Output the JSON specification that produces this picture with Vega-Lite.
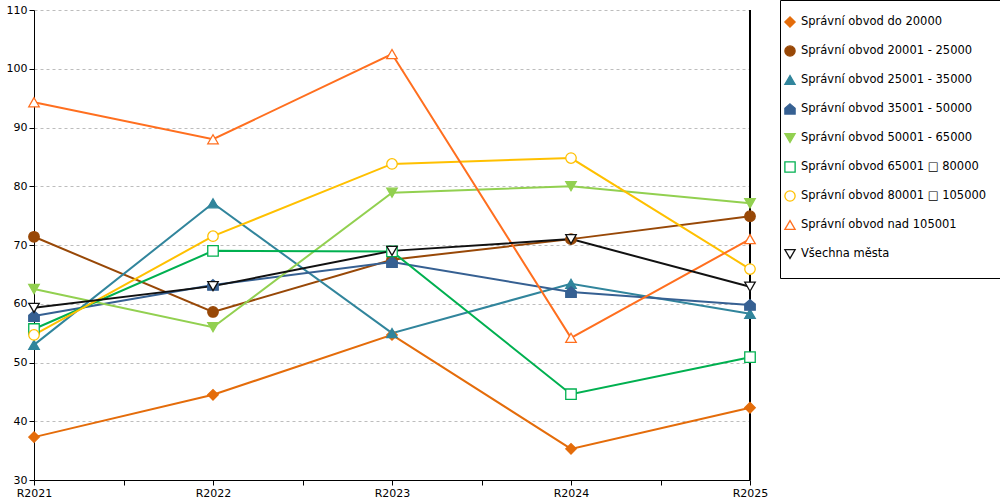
{
  "$schema": "https://vega.github.io/schema/vega-lite/v6.json",
  "width": 716,
  "height": 470,
  "padding": {"left": 34, "top": 10, "right": 250, "bottom": 20},
  "autosize": {"type": "none"},
  "background": "white",
  "config": {
    "view": {"stroke": null},
    "font": "DejaVu Sans",
    "axis": {"labelFont": "DejaVu Sans", "labelFontSize": 11, "labelColor": "black", "domainColor": "black", "tickColor": "black", "tickSize": 5, "titleFontSize": 11},
    "legend": {"labelFont": "DejaVu Sans", "labelFontSize": 11.5, "labelColor": "black"}
  },
  "data": {
    "values": [
      {"obvod": "Správní obvod do 20000", "rok": 2021, "hodnota": 37.3},
      {"obvod": "Správní obvod do 20000", "rok": 2022, "hodnota": 44.5},
      {"obvod": "Správní obvod do 20000", "rok": 2023, "hodnota": 54.7},
      {"obvod": "Správní obvod do 20000", "rok": 2024, "hodnota": 35.3},
      {"obvod": "Správní obvod do 20000", "rok": 2025, "hodnota": 42.3},
      {"obvod": "Správní obvod 20001 - 25000", "rok": 2021, "hodnota": 71.4},
      {"obvod": "Správní obvod 20001 - 25000", "rok": 2022, "hodnota": 58.6},
      {"obvod": "Správní obvod 20001 - 25000", "rok": 2023, "hodnota": 67.5},
      {"obvod": "Správní obvod 20001 - 25000", "rok": 2024, "hodnota": 71.0},
      {"obvod": "Správní obvod 20001 - 25000", "rok": 2025, "hodnota": 74.9},
      {"obvod": "Správní obvod 25001 - 35000", "rok": 2021, "hodnota": 53.0},
      {"obvod": "Správní obvod 25001 - 35000", "rok": 2022, "hodnota": 77.1},
      {"obvod": "Správní obvod 25001 - 35000", "rok": 2023, "hodnota": 55.0},
      {"obvod": "Správní obvod 25001 - 35000", "rok": 2024, "hodnota": 63.4},
      {"obvod": "Správní obvod 25001 - 35000", "rok": 2025, "hodnota": 58.3},
      {"obvod": "Správní obvod 35001 - 50000", "rok": 2021, "hodnota": 57.9},
      {"obvod": "Správní obvod 35001 - 50000", "rok": 2022, "hodnota": 63.2},
      {"obvod": "Správní obvod 35001 - 50000", "rok": 2023, "hodnota": 67.1},
      {"obvod": "Správní obvod 35001 - 50000", "rok": 2024, "hodnota": 62.0},
      {"obvod": "Správní obvod 35001 - 50000", "rok": 2025, "hodnota": 59.8},
      {"obvod": "Správní obvod 50001 - 65000", "rok": 2021, "hodnota": 62.5},
      {"obvod": "Správní obvod 50001 - 65000", "rok": 2022, "hodnota": 56.0},
      {"obvod": "Správní obvod 50001 - 65000", "rok": 2023, "hodnota": 78.9},
      {"obvod": "Správní obvod 50001 - 65000", "rok": 2024, "hodnota": 80.0},
      {"obvod": "Správní obvod 50001 - 65000", "rok": 2025, "hodnota": 77.1},
      {"obvod": "Správní obvod 65001 □ 80000", "rok": 2021, "hodnota": 55.7},
      {"obvod": "Správní obvod 65001 □ 80000", "rok": 2022, "hodnota": 69.0},
      {"obvod": "Správní obvod 65001 □ 80000", "rok": 2023, "hodnota": 68.9},
      {"obvod": "Správní obvod 65001 □ 80000", "rok": 2024, "hodnota": 44.6},
      {"obvod": "Správní obvod 65001 □ 80000", "rok": 2025, "hodnota": 50.9},
      {"obvod": "Správní obvod 80001 □ 105000", "rok": 2021, "hodnota": 54.7},
      {"obvod": "Správní obvod 80001 □ 105000", "rok": 2022, "hodnota": 71.5},
      {"obvod": "Správní obvod 80001 □ 105000", "rok": 2023, "hodnota": 83.8},
      {"obvod": "Správní obvod 80001 □ 105000", "rok": 2024, "hodnota": 84.8},
      {"obvod": "Správní obvod 80001 □ 105000", "rok": 2025, "hodnota": 65.9},
      {"obvod": "Správní obvod nad 105001", "rok": 2021, "hodnota": 94.3},
      {"obvod": "Správní obvod nad 105001", "rok": 2022, "hodnota": 88.0},
      {"obvod": "Správní obvod nad 105001", "rok": 2023, "hodnota": 102.5},
      {"obvod": "Správní obvod nad 105001", "rok": 2024, "hodnota": 54.2},
      {"obvod": "Správní obvod nad 105001", "rok": 2025, "hodnota": 71.0},
      {"obvod": "Všechna města", "rok": 2021, "hodnota": 59.3},
      {"obvod": "Všechna města", "rok": 2022, "hodnota": 63.0},
      {"obvod": "Všechna města", "rok": 2023, "hodnota": 69.0},
      {"obvod": "Všechna města", "rok": 2024, "hodnota": 71.0},
      {"obvod": "Všechna města", "rok": 2025, "hodnota": 62.9}
    ]
  },
  "encoding": {
    "x": {
      "field": "rok",
      "type": "quantitative",
      "scale": {"domain": [2021, 2025], "nice": false, "zero": false},
      "axis": {
        "title": null,
        "grid": false,
        "values": [2021, 2021.5, 2022, 2022.5, 2023, 2023.5, 2024, 2024.5, 2025],
        "labelExpr": "datum.value % 1 == 0 ? 'R' + datum.value : ''",
        "labelFlush": false,
        "labelPadding": 2
      }
    },
    "y": {
      "field": "hodnota",
      "type": "quantitative",
      "scale": {"domain": [30, 110], "nice": false, "zero": false},
      "axis": {
        "title": null,
        "values": [30, 40, 50, 60, 70, 80, 90, 100, 110],
        "grid": true,
        "gridColor": "#bdbdbd",
        "gridDash": [3, 3],
        "labelFlush": false,
        "labelPadding": 2
      }
    }
  },
  "layer": [
    {
      "mark": {"type": "line", "strokeWidth": 2},
      "encoding": {
        "stroke": {
          "field": "obvod",
          "type": "nominal",
          "scale": {
            "domain": ["Správní obvod do 20000", "Správní obvod 20001 - 25000", "Správní obvod 25001 - 35000", "Správní obvod 35001 - 50000", "Správní obvod 50001 - 65000", "Správní obvod 65001 □ 80000", "Správní obvod 80001 □ 105000", "Správní obvod nad 105001", "Všechna města"],
            "range": ["#e46c0a", "#984807", "#31859c", "#366092", "#92d050", "#00b050", "#ffc000", "#ff6f1f", "#111111"]
          },
          "legend": {
            "title": null,
            "orient": "none",
            "legendX": 746,
            "legendY": -10,
            "strokeColor": "black",
            "padding": 16,
            "symbolOffset": -12,
            "rowPadding": 13,
            "symbolSize": 105,
            "symbolStrokeWidth": 1.3,
            "labelOffset": 5,
            "labelLimit": 300
          }
        }
      }
    },
    {
      "mark": {"type": "rule", "color": "black", "strokeWidth": 1},
      "encoding": {"x": {"datum": 2025}, "y": null}
    },
    {
      "mark": {"type": "point", "filled": true, "size": 110, "strokeWidth": 1.3, "opacity": 1},
      "encoding": {
        "stroke": {"field": "obvod", "type": "nominal"},
        "fill": {
          "field": "obvod",
          "type": "nominal",
          "scale": {
            "domain": ["Správní obvod do 20000", "Správní obvod 20001 - 25000", "Správní obvod 25001 - 35000", "Správní obvod 35001 - 50000", "Správní obvod 50001 - 65000", "Správní obvod 65001 □ 80000", "Správní obvod 80001 □ 105000", "Správní obvod nad 105001", "Všechna města"],
            "range": ["#e46c0a", "#984807", "#31859c", "#366092", "#92d050", "#ffffff", "#ffffff", "#ffffff", "#ffffff"]
          }
        },
        "shape": {
          "field": "obvod",
          "type": "nominal",
          "scale": {
            "domain": ["Správní obvod do 20000", "Správní obvod 20001 - 25000", "Správní obvod 25001 - 35000", "Správní obvod 35001 - 50000", "Správní obvod 50001 - 65000", "Správní obvod 65001 □ 80000", "Správní obvod 80001 □ 105000", "Správní obvod nad 105001", "Všechna města"],
            "range": ["diamond", "circle", "triangle-up", "M0,-1L1,-0.15L1,1L-1,1L-1,-0.15Z", "triangle-down", "square", "circle", "triangle-up", "triangle-down"]
          }
        }
      }
    }
  ]
}
